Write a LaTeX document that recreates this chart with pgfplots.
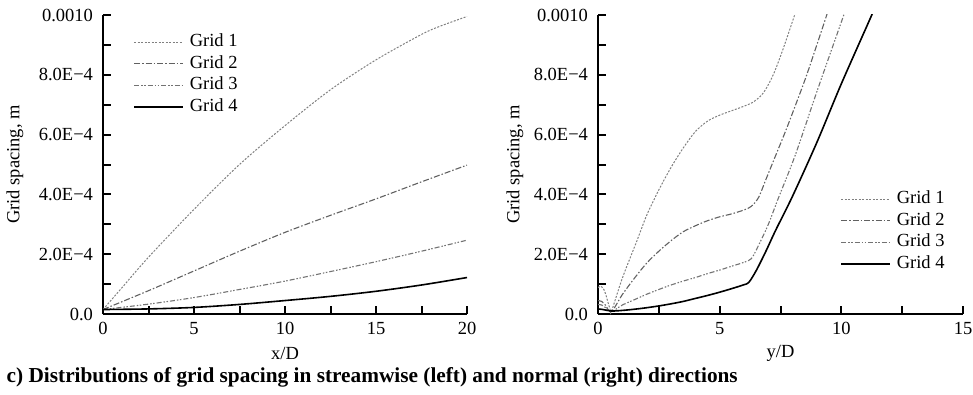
\documentclass[border=0pt]{standalone}
\usepackage{fontspec}
\setmainfont{Liberation Serif}
\usepackage{pgfplots}
\pgfplotsset{compat=1.18}
\newcommand{\fs}{\fontsize{18.5}{22}\selectfont}
\newcommand{\fc}{\fontsize{21.3}{25}\selectfont}
\pgfplotsset{
  gstyle/.style={
    scale only axis, width=364pt, height=299pt,
    axis x line*=bottom, axis y line*=left,
    axis line style={-, line width=2.4pt},
    every tick/.style={black, line width=2pt},
    major tick length=8pt,
    ymin=0, ymax=10,
    ytick={0,1,...,10},
    yticklabels={0.0,,2.0E−4,,4.0E−4,,6.0E−4,,8.0E−4,,0.0010},
    ticklabel style={font=\fs},
    yticklabel style={xshift=-6.5pt},
    xticklabel style={yshift=-5pt},
    legend cell align=left,
    legend style={draw=none, fill=none, font=\fs, inner sep=0pt, anchor=north west,
      row sep=4.5pt, nodes={inner sep=1pt, text height=12pt, text depth=3pt},
      /tikz/every odd column/.append style={column sep=5pt}},
    legend image code/.code={\draw[##1] (0pt,0pt) -- (49pt,0pt);},
  },
  g1/.style={color=black!50, line width=1pt, dash pattern=on 2pt off 1.5pt},
  g2/.style={color=black!62, line width=1.1pt, dash pattern=on 6pt off 2pt on 1.5pt off 2pt},
  g3/.style={color=black!55, line width=1.1pt, dash pattern=on 5pt off 2pt on 1.5pt off 1.5pt on 1.5pt off 2pt},
  g4/.style={color=black, line width=1.6pt},
}
\begin{document}
\begin{tikzpicture}
\path[use as bounding box] (0pt,0pt) rectangle (973pt,394pt);
\begin{axis}[gstyle, at={(103pt,80pt)}, anchor=south west,
  xmin=0, xmax=20, xtick={0,2.5,...,20}, xticklabels={0,,5,,10,,15,,20},
  xlabel={x/D}, ylabel={Grid spacing, m},
  every axis y label/.style={at={(axis description cs:0,0.5)}, xshift=-88pt, rotate=90, anchor=center, font=\fs},
  every axis x label/.style={at={(axis description cs:0.5,0)}, yshift=-39pt, anchor=center, font=\fs},
  legend style={at={(rel axis cs:0,0)}, xshift=30pt, yshift=280.5pt},
]
\addplot[g1, smooth] coordinates {(0,0.15)(1,0.85)(2.5,1.9)(5,3.5)(7.5,5.0)(10,6.3)(12.5,7.5)(15,8.5)(17.5,9.35)(18.5,9.62)(20,9.95)};
\addplot[g2, smooth] coordinates {(0,0.15)(2.5,0.78)(5,1.44)(7.5,2.1)(10,2.73)(12.5,3.3)(15,3.85)(17.5,4.42)(20,4.98)};
\addplot[g3, smooth] coordinates {(0,0.15)(2.5,0.33)(5,0.55)(7.5,0.82)(10,1.1)(12.5,1.42)(15,1.75)(17.5,2.1)(20,2.47)};
\addplot[g4, smooth] coordinates {(0,0.15)(2.5,0.17)(5,0.22)(7.5,0.32)(10,0.45)(12.5,0.59)(15,0.76)(17.5,0.97)(20,1.22)};
\legend{Grid 1,Grid 2,Grid 3,Grid 4}
\end{axis}
\begin{axis}[gstyle, at={(598pt,80pt)}, anchor=south west, width=365pt,
  xmin=0, xmax=15, xtick={0,2.5,...,15}, xticklabels={0,,5,,10,,15},
  xlabel={y/D}, ylabel={Grid spacing, m},
  every axis y label/.style={at={(axis description cs:0,0.5)}, xshift=-83pt, rotate=90, anchor=center, font=\fs},
  every axis x label/.style={at={(axis description cs:0.5,0)}, yshift=-39pt, anchor=center, font=\fs},
  legend style={at={(rel axis cs:0,0)}, xshift=242pt, yshift=123.5pt},
]
\addplot[g1, smooth] coordinates {(0,0.88)(0.1,0.93)(0.2,0.88)(0.3,0.7)(0.4,0.42)(0.5,0.15)(0.55,0.08)(1.0,1.2)(1.6,2.45)(2.0,3.3)(2.5,4.15)(3.0,4.9)(3.5,5.55)(4.0,6.1)(4.5,6.45)(5.0,6.65)(5.5,6.8)(6.0,6.95)(6.4,7.1)(6.8,7.4)(7.2,8.0)(7.6,8.85)(8.1,10.05)(8.3,10.6)};
\addplot[g2, smooth] coordinates {(0,0.45)(0.15,0.42)(0.3,0.3)(0.55,0.08)(1.0,0.65)(1.5,1.2)(2.0,1.7)(2.5,2.1)(3.0,2.45)(3.5,2.75)(4.0,2.95)(4.5,3.12)(5.0,3.25)(5.5,3.35)(6.0,3.48)(6.3,3.6)(6.6,3.9)(6.9,4.5)(7.3,5.3)(7.7,6.1)(8.1,6.95)(8.6,8.05)(9.4,10.0)(9.6,10.5)};
\addplot[g3, smooth] coordinates {(0,0.32)(0.15,0.3)(0.3,0.22)(0.55,0.08)(1.0,0.3)(1.5,0.48)(2.0,0.66)(2.5,0.82)(3.0,0.97)(3.5,1.1)(4.0,1.22)(4.5,1.35)(5.0,1.47)(5.5,1.6)(6.0,1.73)(6.3,1.85)(6.6,2.3)(7.0,3.0)(7.4,3.85)(8.1,5.3)(9.0,7.45)(10.1,10.0)(10.3,10.5)};
\addplot[g4, smooth] coordinates {(0,0.17)(0.2,0.15)(0.55,0.1)(1.0,0.12)(1.5,0.16)(2.0,0.21)(2.5,0.27)(3.0,0.34)(3.5,0.42)(4.0,0.52)(4.5,0.62)(5.0,0.73)(5.5,0.85)(6.0,0.98)(6.2,1.06)(6.5,1.45)(6.9,2.1)(7.3,2.8)(8.0,3.95)(9.0,5.75)(10.0,7.7)(11.25,10.0)(11.5,10.5)};
\legend{Grid 1,Grid 2,Grid 3,Grid 4}
\end{axis}
\node[anchor=west, inner sep=0pt, font=\fc\bfseries] at (6.5pt,17pt) {c) Distributions of grid spacing in streamwise (left) and normal (right) directions};
\end{tikzpicture}
\end{document}
